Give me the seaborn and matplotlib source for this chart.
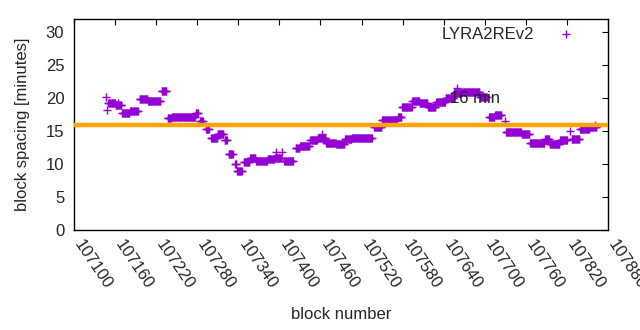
import numpy as np
import pandas as pd
import matplotlib
matplotlib.use("Agg")
import matplotlib.pyplot as plt
import seaborn as sns

# runs of block spacing: [start, end) block, value in minutes
seg_start = [107147, 107148, 107150, 107161, 107170, 107182, 107196, 107208, 107228, 107237,
             107243, 107278, 107284, 107293, 107300, 107310, 107320, 107326, 107335, 107338,
             107348, 107357, 107366, 107383, 107393, 107407, 107424, 107430, 107445, 107456,
             107468, 107483, 107496, 107506, 107538, 107550, 107573, 107579, 107594, 107605,
             107617, 107629, 107643, 107655, 107666, 107693, 107706, 107715, 107731, 107754,
             107766, 107788, 107795, 107810, 107824, 107827, 107839, 107853]
seg_end = [107148, 107149, 107161, 107170, 107182, 107194, 107208, 107227, 107236, 107243,
           107278, 107282, 107289, 107298, 107310, 107319, 107324, 107333, 107338, 107346,
           107357, 107366, 107383, 107393, 107404, 107421, 107430, 107445, 107456, 107468,
           107483, 107496, 107506, 107536, 107550, 107573, 107579, 107594, 107605, 107617,
           107629, 107643, 107655, 107666, 107693, 107704, 107715, 107725, 107754, 107766,
           107788, 107795, 107810, 107821, 107825, 107839, 107853, 107864]
seg_value = [20.2, 18.2, 19.3, 18.9, 17.8, 18.1, 19.9, 19.6, 21.1, 17.0,
             17.2, 17.8, 16.5, 15.3, 14.0, 14.6, 13.6, 11.5, 10.0, 9.0,
             10.3, 10.9, 10.5, 10.8, 11.0, 10.5, 12.5, 12.8, 13.7, 14.0,
             13.2, 13.1, 13.8, 14.0, 15.6, 16.7, 17.2, 18.6, 19.6, 19.2,
             18.6, 19.5, 20.0, 20.8, 21.0, 20.2, 17.1, 17.5, 14.9, 14.6,
             13.2, 13.8, 13.1, 13.6, 15.0, 13.8, 15.3, 15.6]

# isolated points
extra_block = [107165, 107395, 107404, 107462, 107660, 107729, 107861]
extra_value = [19.2, 11.8, 11.8, 14.5, 21.5, 16.6, 16.0]

target = 16
xticks = list(range(107100, 107881, 60))

blocks, values = [], []
for s, e, v in zip(seg_start, seg_end, seg_value):
    for b in range(s, e):
        blocks.append(b)
        values.append(v)
blocks += extra_block
values += extra_value
df = pd.DataFrame({"block": blocks, "spacing": values})

sns.set_style("white")
plt.rcParams["font.family"] = ["Liberation Sans", "DejaVu Sans"]

fig, ax = plt.subplots(figsize=(6.4, 3.3), dpi=100)
fig.subplots_adjust(left=0.1156, right=0.95, bottom=0.303, top=0.942)

sns.scatterplot(data=df, x="block", y="spacing", marker="+", color="#9400d3",
                s=34, linewidth=1, ax=ax, label="LYRA2REv2", zorder=3)
ax.axhline(target, color="#ffa500", lw=3.2, zorder=4)
ax.text(107649, 20.0, "16 min", fontsize=12, va="center", ha="left", color="#222222", zorder=5)

ax.set_xlim(107100, 107880)
ax.set_ylim(0, 32)
ax.set_xticks(xticks)
# rotated labels start right at the tick, like gnuplot
ax.set_xticklabels([str(t) for t in xticks], rotation=-56, ha="left", va="baseline",
                   rotation_mode="anchor")
ax.set_yticks(range(0, 31, 5))
ax.tick_params(direction="in", length=4, top=True, right=True, labelsize=12,
               color="black", pad=7)
ax.tick_params(axis="x", pad=10)
for sp in ax.spines.values():
    sp.set_color("black")
    sp.set_linewidth(1)
ax.set_xlabel("block number", fontsize=12, labelpad=11)
ax.set_ylabel("block spacing [minutes]", fontsize=12, labelpad=11)

ax.legend(loc="upper right", bbox_to_anchor=(0.958, 1.012), frameon=False,
          markerfirst=False, fontsize=12, handlelength=1.2, handletextpad=1.3,
          borderaxespad=0.2)

fig.savefig("out.png", dpi=100)
